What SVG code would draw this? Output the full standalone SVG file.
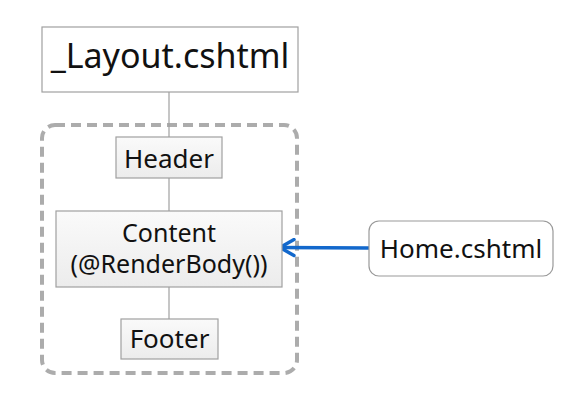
<svg xmlns="http://www.w3.org/2000/svg" width="575" height="400" viewBox="0 0 575 400">
<defs>
<linearGradient id="g" x1="0" y1="0" x2="0" y2="1">
<stop offset="0" stop-color="#fafafa"/>
<stop offset="1" stop-color="#ececec"/>
</linearGradient>
<marker id="ah" viewBox="0 0 20 20" refX="17" refY="10" markerWidth="20" markerHeight="20" markerUnits="userSpaceOnUse" orient="auto">
<path d="M3,2 L17,10 L3,18" fill="none" stroke="#1268cc" stroke-width="3.4" stroke-linecap="round" stroke-linejoin="round"/>
</marker>
</defs>
<style>
text{font-family:"Noto Sans","Open Sans","DejaVu Sans",sans-serif;fill:#111;text-anchor:middle}
.box{fill:url(#g);stroke:#a0a0a0;stroke-width:1.2}
.ln{stroke:#a0a0a0;stroke-width:1.2;fill:none}
</style>
<rect width="575" height="400" fill="#fff"/>
<g id="container">
<rect x="42" y="125" width="255" height="248" rx="13" fill="none" stroke="#acacac" stroke-width="4" stroke-dasharray="10 6"/>
</g>
<g id="connectors">
<line class="ln" x1="169" y1="92" x2="169" y2="137"/>
<line class="ln" x1="169" y1="178" x2="169" y2="211"/>
<line class="ln" x1="169" y1="287" x2="169" y2="319"/>
<line x1="369" y1="248" x2="280" y2="247.5" stroke="#1268cc" stroke-width="3.6" marker-end="url(#ah)"/>
</g>
<g id="layout">
<rect x="42" y="27" width="256" height="65" fill="#fff" stroke="#a0a0a0" stroke-width="1.2"/>
<text x="170" y="68" font-size="34">_Layout.cshtml</text>
</g>
<g id="header">
<rect class="box" x="116" y="137" width="106" height="41"/>
<text x="169" y="168" font-size="26">Header</text>
</g>
<g id="content">
<rect class="box" x="56" y="211" width="226" height="76"/>
<text x="169" y="242" font-size="25">Content</text>
<text x="169" y="273" font-size="25">(@RenderBody())</text>
</g>
<g id="footer">
<rect class="box" x="121" y="319" width="97" height="40"/>
<text x="169.5" y="348" font-size="26">Footer</text>
</g>
<g id="home">
<rect x="369" y="221" width="184" height="55" rx="10" fill="#fff" stroke="#999" stroke-width="1.2"/>
<text x="461" y="258" font-size="26">Home.cshtml</text>
</g>
</svg>
